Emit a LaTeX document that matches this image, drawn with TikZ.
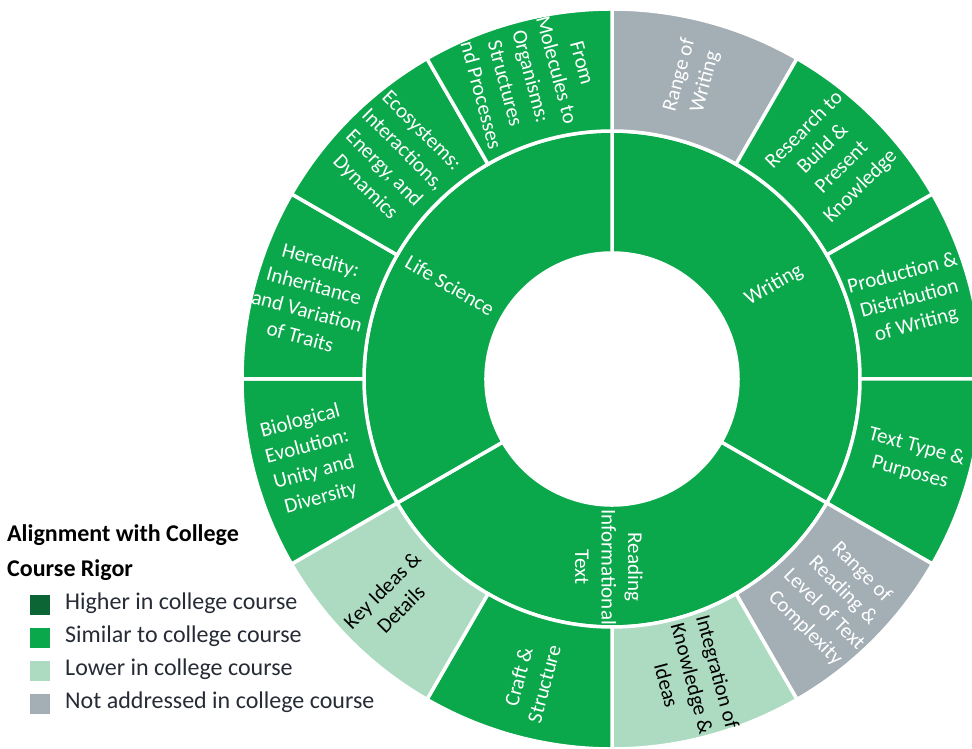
\documentclass[tikz,border=0pt]{standalone}
\usepackage{fontspec}
\setmainfont{Carlito}
\definecolor{cgreen}{RGB}{10,168,75}
\definecolor{clight}{RGB}{173,219,193}
\definecolor{cgray}{RGB}{163,174,181}
\definecolor{cdark}{RGB}{11,101,53}
\definecolor{ctext}{RGB}{38,43,54}
\newcommand\sbwedge[5]{\filldraw[fill=#5, draw=white, line width=3.5pt] (#3:#1pt) arc[start angle=#3, end angle=#4, radius=#1pt] -- (#4:#2pt) arc[start angle=#4, end angle=#3, radius=#2pt] -- cycle;}
\newcommand\sbclip[4]{\clip (#3:#1pt) arc[start angle=#3, end angle=#4, radius=#1pt] -- (#4:#2pt) arc[start angle=#4, end angle=#3, radius=#2pt] -- cycle;}
\begin{document}
\begin{tikzpicture}[x=1pt,y=1pt,
  lbl/.style={text=white, align=center, font=\fontsize{21}{26.5}\selectfont, inner sep=0pt},
  dlbl/.style={lbl, text=black},
  sq/.style={minimum size=20pt, inner sep=0pt, draw=none},
  legtxt/.style={anchor=base west, inner sep=0pt, text=ctext, font=\fontsize{24}{28}\selectfont},
  legttl/.style={anchor=base west, inner sep=0pt, text=black, font=\fontsize{24}{28}\selectfont\bfseries}]
\clip (0,0) rectangle (972,749);
\fill[white] (0,0) rectangle (972,749);
\begin{scope}[shift={(612,370)}]
  % middle ring
  \sbwedge{126}{248}{90}{-30}{cgreen}
  \sbwedge{126}{248}{-30}{-150}{cgreen}
  \sbwedge{126}{248}{-150}{-270}{cgreen}
  % outer ring
  \sbwedge{248}{370}{90}{60}{cgray}
  \sbwedge{248}{370}{60}{30}{cgreen}
  \sbwedge{248}{370}{30}{0}{cgreen}
  \sbwedge{248}{370}{0}{-30}{cgreen}
  \sbwedge{248}{370}{-30}{-60}{cgray}
  \sbwedge{248}{370}{-60}{-90}{clight}
  \sbwedge{248}{370}{-90}{-120}{cgreen}
  \sbwedge{248}{370}{-120}{-150}{clight}
  \sbwedge{248}{370}{-150}{-180}{cgreen}
  \sbwedge{248}{370}{180}{150}{cgreen}
  \sbwedge{248}{370}{150}{120}{cgreen}
  \sbwedge{248}{370}{120}{90}{cgreen}
  % middle labels
  \node[lbl, rotate=30] (writing) at (30:187pt) {Writing};
  \node[lbl, rotate=-30] (life) at (150:187pt) {Life Science};
  \node[lbl, rotate=-90] (reading) at (-91:188pt) {Reading\\Informational\\Text};
  % outer labels
  \begin{scope}\sbclip{248}{370}{60}{90}
    \node[lbl, rotate=75] (rangew) at (75:311pt) {Range of\\Writing};\end{scope}
  \begin{scope}\sbclip{248}{370}{30}{60}
    \node[lbl, rotate=45] (research) at (45:312pt) {Research to\\Build \&\\Present\\Knowledge};\end{scope}
  \begin{scope}\sbclip{248}{370}{0}{30}
    \node[lbl, rotate=15] (prod) at (15:308pt) {Production \&\\Distribution\\of Writing};\end{scope}
  \begin{scope}\sbclip{248}{370}{-30}{0}
    \node[lbl, rotate=-15] (ttype) at (-15:312pt) {Text Type \&\\Purposes};\end{scope}
  \begin{scope}\sbclip{248}{370}{-60}{-30}
    \node[lbl, rotate=-45] (ranger) at (-45:313pt) {Range of\\Reading \&\\Level of Text\\Complexity};\end{scope}
  \begin{scope}\sbclip{248}{370}{-90}{-60}
    \node[dlbl, rotate=-75] (integ) at (-75:310pt) {Integration of\\Knowledge \&\\Ideas};\end{scope}
  \begin{scope}\sbclip{248}{370}{-120}{-90}
    \node[lbl, rotate=75] (craft) at (-105:312pt) {Craft \&\\Structure};\end{scope}
  \begin{scope}\sbclip{248}{370}{-150}{-120}
    \node[dlbl, rotate=45] (keyid) at (-135:312pt) {Key Ideas \&\\Details};\end{scope}
  \begin{scope}\sbclip{248}{370}{180}{210}
    \node[lbl, rotate=15] (bio) at (195:312pt) {Biological\\Evolution:\\Unity and\\Diversity};\end{scope}
  \begin{scope}\sbclip{248}{370}{150}{180}
    \node[lbl, rotate=-15] (hered) at (165:312pt) {Heredity:\\Inheritance\\and Variation\\of Traits};\end{scope}
  \begin{scope}\sbclip{248}{370}{120}{150}
    \node[lbl, rotate=-45] (eco) at (135:310pt) {Ecosystems:\\Interactions,\\Energy, and\\Dynamics};\end{scope}
  \begin{scope}\sbclip{248}{370}{90}{120}
    \node[lbl, rotate=-75] (from) at (105:313pt) {From\\Molecules to\\Organisms:\\Structures\\and Processes};\end{scope}
\end{scope}
% legend
\node[legttl] (title1) at (7,207) {Alignment with College};
\node[legttl] (title2) at (7,172) {Course Rigor};
\node[sq, fill=cdark] (sq1) at (40,144) {};
\node[sq, fill=cgreen] (sq2) at (40,111) {};
\node[sq, fill=clight] (sq3) at (40,78) {};
\node[sq, fill=cgray] (sq4) at (40,45) {};
\node[legtxt] (leg1) at (65,139) {Higher in college course};
\node[legtxt] (leg2) at (65,106) {Similar to college course};
\node[legtxt] (leg3) at (65,73) {Lower in college course};
\node[legtxt] (leg4) at (65,40) {Not addressed in college course};
\end{tikzpicture}
\end{document}
